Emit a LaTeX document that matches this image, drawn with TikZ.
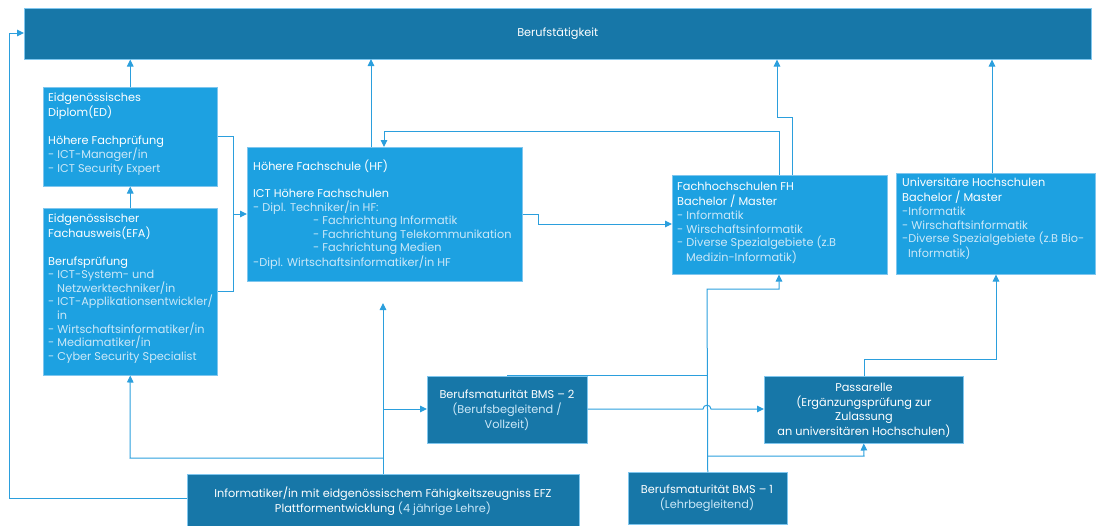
\documentclass[tikz,border=0pt]{standalone}
\usepackage{fontspec}
\setmainfont{Poppins}
\usetikzlibrary{arrows.meta}
\definecolor{dkbox}{HTML}{1777A8}
\definecolor{ltbox}{HTML}{1DA1E1}
\definecolor{lnblue}{HTML}{2B9FDD}
\definecolor{txtlt}{HTML}{CBE8F8}
\definecolor{edgelt}{HTML}{7FC6EE}
\newcommand{\fsz}{\fontsize{11.3}{13.6}\selectfont}
\tikzset{
  dbox/.style={draw=edgelt, line width=0.5pt, fill=dkbox, inner sep=0pt, anchor=north west},
  lbox/.style={draw=edgelt, line width=0.5pt, fill=ltbox, inner sep=0pt, anchor=north west},
  txtl/.style={anchor=north west, inner sep=0pt, align=left, text=white, font=\fsz},
  txtc/.style={anchor=north, inner sep=0pt, align=center, text=white, font=\fsz},
  conn/.style={draw=lnblue, line width=1pt},
  arr/.style={conn, -{Triangle[length=7pt,width=6.5pt]}},
}
\begin{document}
\begin{tikzpicture}[x=1pt,y=-1pt]
\useasboundingbox (0,0) rectangle (1098,525);
% boxes
\node[dbox, minimum width=1067pt, minimum height=51pt] (berufs) at (24,8) {};
\node[lbox, minimum width=174pt, minimum height=99pt] (ed) at (43,87) {};
\node[lbox, minimum width=174pt, minimum height=167pt] (efa) at (43,208) {};
\node[lbox, minimum width=275pt, minimum height=134pt] (hf) at (247,147) {};
\node[lbox, minimum width=215pt, minimum height=99pt] (fh) at (672,175) {};
\node[lbox, minimum width=199pt, minimum height=101pt] (uni) at (896,173) {};
\node[dbox, minimum width=160pt, minimum height=67pt] (bms2) at (427,376) {};
\node[dbox, minimum width=199pt, minimum height=67pt] (pass) at (764,376) {};
\node[dbox, minimum width=392pt, minimum height=52pt] (efz) at (187,474) {};
\node[dbox, minimum width=159pt, minimum height=52pt] (bms1) at (628,472) {};
% texts
\node[anchor=center, inner sep=0pt, text=white, font=\fsz] (tberufs) at (berufs.center) {Berufstätigkeit};
\node[txtl] (ted) at (48,91.5) {\strut Eidgenössisches\\Diplom(ED)\\ \strut\\Höhere Fachprüfung\\\textcolor{txtlt}{- ICT-Manager/in}\\\textcolor{txtlt}{- ICT Security Expert}};
\node[txtl] (tefa) at (48,212.5) {\strut Eidgenössischer\\Fachausweis(EFA)\\ \strut\\Berufsprüfung\\
\textcolor{txtlt}{- ICT-System- und}\\\textcolor{txtlt}{\hspace*{9pt}Netzwerktechniker/in}\\
\textcolor{txtlt}{- ICT-Applikationsentwickler/}\\\textcolor{txtlt}{\hspace*{9pt}in}\\
\textcolor{txtlt}{- Wirtschaftsinformatiker/in}\\\textcolor{txtlt}{- Mediamatiker/in}\\
\textcolor{txtlt}{- Cyber Security Specialist}};
\node[txtl] (thf) at (253,159.5) {\strut Höhere Fachschule (HF)\\ \strut\\ICT Höhere Fachschulen\\
\textcolor{txtlt}{- Dipl. Techniker/in HF:}\\
\textcolor{txtlt}{\hspace*{60pt}- Fachrichtung Informatik}\\
\textcolor{txtlt}{\hspace*{60pt}- Fachrichtung Telekommunikation}\\
\textcolor{txtlt}{\hspace*{60pt}- Fachrichtung Medien}\\
\textcolor{txtlt}{-Dipl. Wirtschaftsinformatiker/in HF}};
\node[txtl] (tfh) at (677,180.5) {\strut Fachhochschulen FH\\Bachelor / Master\\
\textcolor{txtlt}{- Informatik}\\\textcolor{txtlt}{- Wirschaftsinformatik}\\
\textcolor{txtlt}{- Diverse Spezialgebiete (z.B}\\\textcolor{txtlt}{\hspace*{9pt}Medizin-Informatik)}};
\node[txtl] (tuni) at (902,176.5) {\strut Universitäre Hochschulen\\Bachelor / Master\\
\textcolor{txtlt}{-Informatik}\\\textcolor{txtlt}{- Wirschaftsinformatik}\\
\textcolor{txtlt}{-Diverse Spezialgebiete (z.B Bio-}\\\textcolor{txtlt}{\hspace*{6pt}Informatik)}};
\node[txtc] (tbms2) at (507,388.5) {\strut Berufsmaturität BMS – 2\\\textcolor{txtlt}{(Berufsbegleitend /}\\\textcolor{txtlt}{Vollzeit)}};
\node[txtc] (tpass) at (864,381.5) {\strut Passarelle\\(Ergänzungsprüfung zur\\Zulassung\\an universitären Hochschulen)};
\node[txtc] (tbms1) at (707,483.5) {\strut Berufsmaturität BMS – 1\\\textcolor{txtlt}{(Lehrbegleitend)}};
\node[txtc] (tefz) at (383,486.5) {\strut Informatiker/in mit eidgenössischem Fähigkeitszeugniss EFZ\\Plattformentwicklung \textcolor{txtlt}{(4 jährige Lehre)}};
% junction coordinates
\coordinate (bt) at (233,136);
\coordinate (bb) at (233,291);
\coordinate (bm) at (233,214);
\coordinate (fbA) at (779,131);
\coordinate (fbB) at (384,131);
\coordinate (fuA) at (792,117);
\coordinate (fuB) at (777,117);
\coordinate (hfA) at (538,214);
\coordinate (hfB) at (538,224);
\coordinate (uniT) at (992,173);
\coordinate (lfA) at (9,498);
\coordinate (lfB) at (9,33);
\coordinate (ezT) at (383,474);
\coordinate (ezEnd) at (383,303);
\coordinate (ezL) at (383,458);
\coordinate (ezL2) at (130,458);
\coordinate (ezR) at (383,409);
\coordinate (v1) at (707,289);
\coordinate (v2) at (779,289);
\coordinate (vP) at (707,456);
\coordinate (vP2) at (864,456);
\coordinate (vB) at (707,375);
\coordinate (b2T) at (507,375);
\coordinate (hopA) at (703,409);
\coordinate (hopB) at (711,409);
\coordinate (pT) at (864,376);
\coordinate (pA) at (864,359);
\coordinate (pB) at (996,359);
% connectors
\draw[arr] (ed.north) -- (ed.north |- berufs.south);
\draw[arr] (efa.north) -- (ed.south);
\draw[conn] (ed.east |- bt) -- (bt) -- (bb) -- (efa.east |- bb);
\draw[arr] (bm) -- (hf.west |- bm);
\draw[arr] (371,147) -- (371,59);
\draw[arr] (fh.north -| fbA) -- (fbA) -- (fbB) -- (hf.north -| fbB);
\draw[arr] (fh.north -| fuA) -- (fuA) -- (fuB) -- (berufs.south -| fuB);
\draw[arr] (hf.east |- hfA) -- (hfA) -- (hfB) -- (fh.west |- hfB);
\draw[arr] (uniT) -- (berufs.south -| uniT);
\draw[arr] (efz.west |- lfA) -- (lfA) -- (lfB) -- (berufs.west |- lfB);
\draw[arr] (ezT) -- (ezEnd);
\draw[arr] (ezL) -- (ezL2) -- (efa.south);
\draw[arr] (ezR) -- (bms2.west |- ezR);
\draw[arr] (bms1.north) -- (v1) -- (v2) -- (fh.south -| v2);
\draw[arr] (vP) -- (vP2) -- (pass.south);
\draw[conn] (b2T) -- (vB);
\draw[arr] (bms2.east |- hopA) -- (hopA) .. controls (703,404) and (711,404) .. (hopB) -- (pass.west |- hopB);
\draw[arr] (pT) -- (pA) -- (pB) -- (uni.south -| pB);
\end{tikzpicture}
\end{document}
